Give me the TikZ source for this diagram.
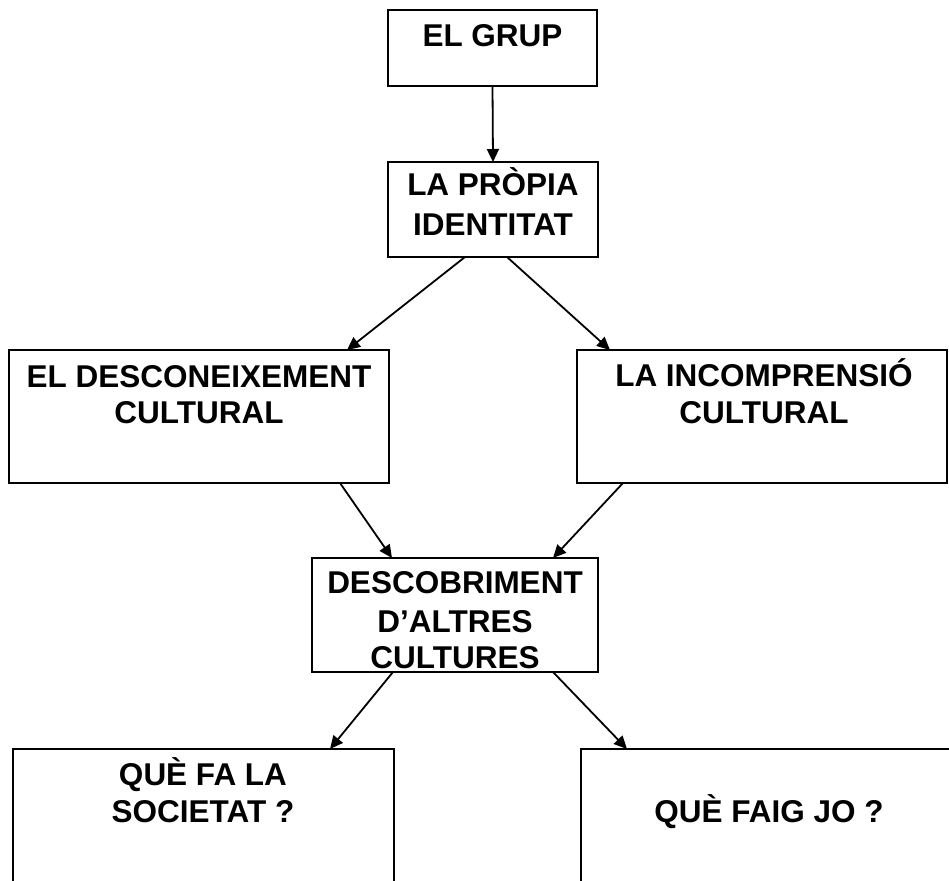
\documentclass[tikz,border=0pt]{standalone}
\usepackage{fontspec}
\setmainfont{Liberation Sans}
\usetikzlibrary{arrows.meta,calc}
\tikzset{
  box/.style={draw=black, line width=2pt, rectangle, anchor=north west, inner sep=0pt, outer sep=0pt},
  lbl/.style={anchor=base, inner sep=0pt, font=\fontsize{31.5}{38}\selectfont\bfseries},
  arr/.style={line width=1.8pt, -{Triangle[length=13pt,width=12pt]}},
}
\begin{document}
\begin{tikzpicture}[x=1pt,y=-1pt]
\useasboundingbox (0,0) rectangle (949,880);
\fill[white] (0,0) rectangle (949,880);
\clip (0,0) rectangle (949,880);
% boxes
\node[box, minimum width=209pt, minimum height=76pt]  (b1) at (388,10)  {};
\node[box, minimum width=210pt, minimum height=95pt]  (b2) at (388,162) {};
\node[box, minimum width=380pt, minimum height=133pt] (b3) at (9,350)   {};
\node[box, minimum width=370pt, minimum height=133pt] (b4) at (577,350) {};
\node[box, minimum width=286pt, minimum height=114pt] (b5) at (312,558) {};
\node[box, minimum width=381pt, minimum height=141pt] (b6) at (13,749)  {};
\node[box, minimum width=376pt, minimum height=141pt] (b7) at (581,749) {};
% labels
\node[lbl] (t1)  at (492.5,47) {EL GRUP};
\node[lbl] (t2a) at (493,195) {LA PRÒPIA};
\node[lbl] (t2b) at (493,235) {IDENTITAT};
\node[lbl] (t3a) at (199,387) {EL DESCONEIXEMENT};
\node[lbl] (t3b) at (199,423) {CULTURAL};
\node[lbl] (t4a) at (764,386) {LA INCOMPRENSIÓ};
\node[lbl] (t4b) at (764,423) {CULTURAL};
\node[lbl] (t5a) at (455,593) {DESCOBRIMENT};
\node[lbl] (t5b) at (455,632) {D’ALTRES};
\node[lbl] (t5c) at (455,668) {CULTURES};
\node[lbl] (t6a) at (203,785) {QUÈ FA LA};
\node[lbl] (t6b) at (203,822) {SOCIETAT ?};
\node[lbl] (t7)  at (769,822) {QUÈ FAIG JO ?};
% connectors
\draw[arr] (b1.south) -- (b2.north);
\draw[arr] ([xshift=-28pt]b2.south) -- ([xshift=148pt]b3.north);
\draw[arr] ([xshift=14pt]b2.south) -- ([xshift=-152pt]b4.north);
\draw[arr] ([xshift=141pt]b3.south) -- ([xshift=-63pt]b5.north);
\draw[arr] ([xshift=-139pt]b4.south) -- ([xshift=98pt]b5.north);
\draw[arr] ([xshift=-62pt]b5.south) -- ([xshift=126.5pt]b6.north);
\draw[arr] ([xshift=98pt]b5.south) -- ([xshift=46pt]b7.north west);
\end{tikzpicture}
\end{document}
